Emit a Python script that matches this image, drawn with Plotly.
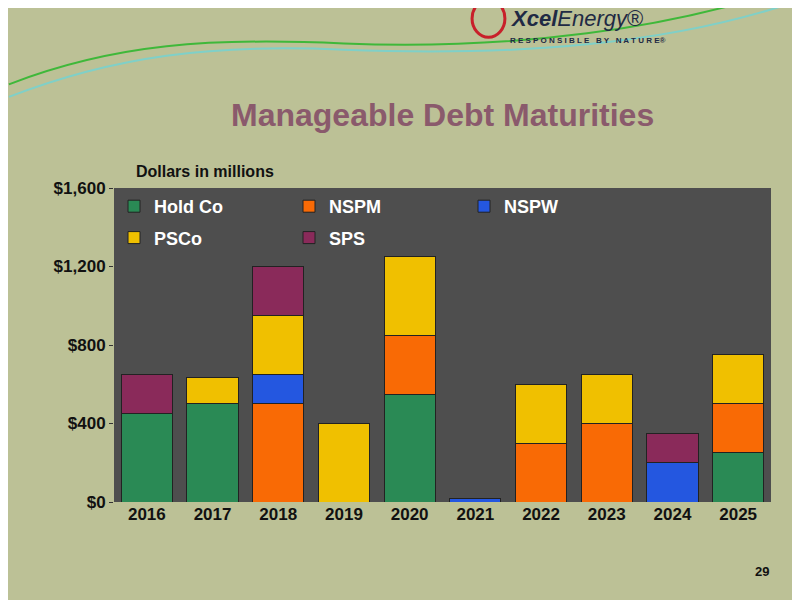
import plotly.graph_objects as go

years = ["2016","2017","2018","2019","2020","2021","2022","2023","2024","2025"]
hold_co = [450, 500, 0, 0, 550, 0, 0, 0, 0, 250]
nspm    = [0, 0, 500, 0, 300, 0, 300, 400, 0, 250]
nspw    = [0, 0, 150, 0, 0, 20, 0, 0, 200, 0]
psco    = [0, 135, 300, 400, 400, 0, 300, 250, 0, 250]
sps     = [200, 0, 250, 0, 0, 0, 0, 0, 150, 0]

series = [("Hold Co", hold_co, "#2a8a55", "legend"),
          ("NSPM", nspm, "#f96a05", "legend"),
          ("NSPW", nspw, "#2457e0", "legend"),
          ("PSCo", psco, "#f0c000", "legend2"),
          ("SPS", sps, "#8a2a5a", "legend2")]

fig = go.Figure()
for name, vals, col, lg in series:
    fig.add_trace(go.Bar(x=years, y=vals, name=name, marker_color=col,
                         marker_line=dict(color="#222", width=1), legend=lg))

legfont = dict(color="white", size=18, family="Liberation Sans, Arial", weight="bold")
fig.update_layout(
    width=800, height=600, barmode="stack", bargap=0.22,
    paper_bgcolor="#bcc196", plot_bgcolor="#4e4e4e",
    margin=dict(l=106, r=37, t=180, b=106),
    font=dict(family="Liberation Sans, Arial", color="#111"),
    legend=dict(orientation="h", x=0.0, y=1.0, xanchor="left", yanchor="top",
                entrywidth=130, font=legfont, bgcolor="rgba(0,0,0,0)", traceorder="normal"),
    legend2=dict(orientation="h", x=0.0, y=0.9, xanchor="left", yanchor="top",
                 entrywidth=130, font=legfont, bgcolor="rgba(0,0,0,0)", traceorder="normal"),
    xaxis=dict(tickfont=dict(size=17, weight="bold", color="#111"), showline=False),
    yaxis=dict(range=[0, 1600], tickvals=[0, 400, 800, 1200, 1600],
               ticktext=["$0", "$400", "$800", "$1,200", "$1,600"],
               tickfont=dict(size=17, weight="bold", color="#111"), showgrid=False,
               zeroline=False, ticks="outside", ticklen=4, tickcolor="#333"),
    shapes=[
        dict(type="path", xref="paper", yref="paper", layer="below",
             path="M -0.16 1.29 C 0.0 1.42, 0.15 1.46, 0.35 1.44 C 0.6 1.42, 0.85 1.45, 1.06 1.61",
             line=dict(color="#7fd0c8", width=2)),
        dict(type="path", xref="paper", yref="paper", layer="below",
             path="M -0.16 1.33 C 0.0 1.46, 0.15 1.48, 0.35 1.46 C 0.6 1.44, 0.85 1.50, 1.06 1.66",
             line=dict(color="#3fb83a", width=2)),
    ],
    annotations=[
        dict(text="Manageable Debt Maturities", xref="paper", yref="paper", x=0.5, y=1.295,
             showarrow=False, font=dict(size=32, color="#8a5a6c", family="Liberation Sans, Arial", weight="bold")),
        dict(text="Dollars in millions", xref="paper", yref="paper", x=0.03, y=1.085, xanchor="left",
             showarrow=False, font=dict(size=16, color="#111", weight="bold")),
        dict(text="<b><i>Xcel</i></b><i>Energy</i>®", xref="paper", yref="paper", x=0.6, y=1.585,
             xanchor="left", showarrow=False, font=dict(size=22, color="#1f2a44")),
        dict(text="<b>R E S P O N S I B L E   B Y   N A T U R E®</b>", xref="paper", yref="paper", x=0.6, y=1.49,
             xanchor="left", showarrow=False, font=dict(size=8, color="#1f2a44")),
        dict(text="<b>29</b>", xref="paper", yref="paper", x=1.0, y=-0.25, showarrow=False,
             font=dict(size=13, color="#111")),
    ],
)
fig.add_shape(type="circle", xref="paper", yref="paper", x0=0.545, x1=0.595, y0=1.48, y1=1.6,
              line=dict(color="#c8202a", width=3))
fig.write_html("out.html")
